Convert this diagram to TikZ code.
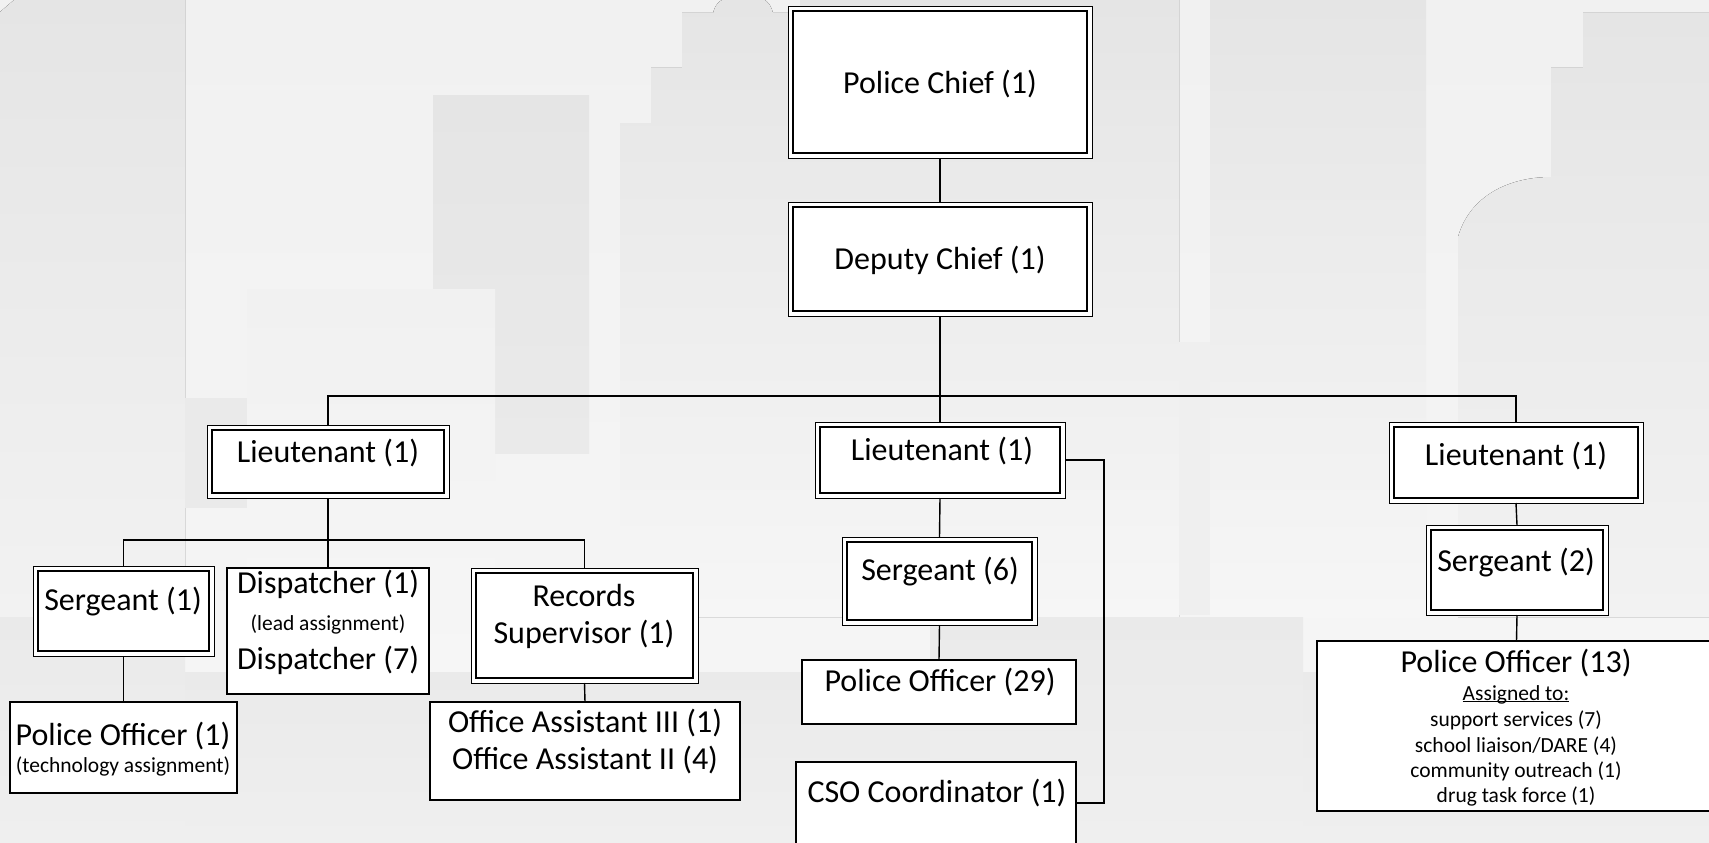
\documentclass[tikz,border=0pt]{standalone}
\usepackage{fontspec}
\setmainfont{Carlito}
\definecolor{bgA}{HTML}{F1F1F1}
\definecolor{bgB}{HTML}{F6F6F6}
\definecolor{bldA}{HTML}{E5E5E5}
\definecolor{bldB}{HTML}{F2F2F2}
\definecolor{bldC}{HTML}{EAEAEA}
\definecolor{gndA}{HTML}{EAEAEA}
\definecolor{gndB}{HTML}{EFEFEF}
% box from its corners: style, name, x1, y1, x2, y2
\newcommand\orgbox[6]{\node[#1, minimum width={#5-#3}, minimum height={#6-#4}] (#2) at ({(#3+#5)/2},{(#4+#6)/2}) {};}
\begin{document}
\begin{tikzpicture}[x=1pt,y=-1pt,
  every node/.style={inner sep=0pt, outer sep=0pt},
  bigtxt/.style={font=\fontsize{32}{38}\selectfont, anchor=base},
  smalltxt/.style={font=\fontsize{21.5}{25}\selectfont, anchor=base},
  plainbox/.style={rectangle, draw, line width=1.4pt, fill=white},
  dblbox/.style={rectangle, draw, line width=0.9pt, fill=white,
    path picture={\draw[line width=1.6pt]
      ([xshift=5pt,yshift=5pt]path picture bounding box.south west) rectangle
      ([xshift=-5pt,yshift=-5pt]path picture bounding box.north east);}},
  conn/.style={line width=1.4pt}]
\path[use as bounding box, clip] (0,0) rectangle (1709,843);

% skyline backdrop
\fill[top color=bgA, bottom color=bgB] (0,0) rectangle (1709,843);
\fill[top color=bldA, bottom color=bldB] (0,12) -- (14,0) -- (185,0) -- (185,617) -- (0,617) -- cycle;
\fill[top color=bldA, bottom color=bldC] (433,96) rectangle (589,453);
\fill[top color=bgA, bottom color=bgB] (247,289) rectangle (495,672);
\fill[bldC] (185,398) rectangle (247,508);
\fill[top color=bldA, bottom color=bgB] (620,617) -- (620,123) -- (651,123) -- (651,68) -- (682,68) -- (682,13) -- (713,13)
  .. controls (716,2) and (722,-2) .. (732,-2) -- (755,-2) .. controls (765,-2) and (770,2) .. (773,13)
  -- (800,13) -- (800,0) -- (1179,0) -- (1179,617) -- cycle;
\fill[top color=bldA, bottom color=bgB] (1210,0) rectangle (1426,617);
\fill[bldC!60!bgB] (1179,342) rectangle (1210,615);
\fill[top color=bldA, bottom color=bldB] (1458,617) -- (1458,237) .. controls (1470,195) and (1510,177) .. (1551,177)
  -- (1551,68) -- (1583,68) -- (1583,13) -- (1709,13) -- (1709,617) -- cycle;
\fill[top color=gndA, bottom color=gndB] (0,617) rectangle (185,843);
\fill[top color=gndA, bottom color=gndB] (185,672) rectangle (930,843);
\fill[top color=gndA, bottom color=gndB] (930,617) rectangle (1303,843);
\fill[top color=gndA, bottom color=gndB] (1303,672) rectangle (1709,843);

% boxes
\orgbox{dblbox}{chief}{788}{6}{1092}{158}
\orgbox{dblbox}{deputy}{788}{202}{1092}{316}
\orgbox{dblbox}{ltL}{207}{425}{449}{498}
\orgbox{dblbox}{ltM}{815}{422}{1065}{498}
\orgbox{dblbox}{ltR}{1389}{422}{1643}{503}
\orgbox{dblbox}{sgtL}{33}{566}{214}{656}
\orgbox{plainbox}{disp}{227}{568}{429}{694}
\orgbox{dblbox}{rec}{471}{568}{698}{683}
\orgbox{plainbox}{poL}{10}{702}{237}{793}
\orgbox{plainbox}{oa}{430}{702}{740}{800}
\orgbox{dblbox}{sgtM}{842}{537}{1037}{625}
\orgbox{plainbox}{poM}{802}{660}{1076}{724}
\orgbox{plainbox}{cso}{796}{762}{1076}{844}
\orgbox{dblbox}{sgtR}{1426}{525}{1608}{615}
\orgbox{plainbox}{poR}{1317}{641}{1716}{811}

% connectors
\coordinate (busTop) at (940,396);
\coordinate (busL) at (328,540);
\coordinate (brk) at (1104,460);
\draw[conn] (chief.south) -- (deputy.north);
\draw[conn] (deputy.south) -- (busTop) -- (ltM.north);
\draw[conn] (ltL.north) |- (busTop) -| (ltR.north);
\draw[conn] (ltL.south) -- (busL) -- (disp.north);
\draw[conn] (sgtL.north) |- (busL) -| (rec.north);
\draw[conn] (sgtL.south) -- (poL.north);
\draw[conn] (rec.south) -- (oa.north);
\draw[conn] (ltM.south) -- (sgtM.north);
\draw[conn] (sgtM.south) -- (poM.north);
\draw[conn] (ltM.east) -- (brk) |- (cso.east);
\draw[conn] (ltR.south) -- (sgtR.north);
\draw[conn] (sgtR.south) -- (poR.north);

% labels
\node[bigtxt] (chief-t) at (940,93) {Police Chief (1)};
\node[bigtxt] (deputy-t) at (940,269) {Deputy Chief (1)};
\node[bigtxt] (ltL-t) at (328,462) {Lieutenant (1)};
\node[bigtxt] (ltM-t) at (942,460) {Lieutenant (1)};
\node[bigtxt] (ltR-t) at (1516,465) {Lieutenant (1)};
\node[bigtxt] (sgtL-t) at (123,610) {Sergeant (1)};
\node[bigtxt] (disp-t1) at (328,593) {Dispatcher (1)};
\node[smalltxt] (disp-t2) at (328,630) {(lead assignment)};
\node[bigtxt] (disp-t3) at (328,669) {Dispatcher (7)};
\node[bigtxt] (rec-t1) at (584,606) {Records};
\node[bigtxt] (rec-t2) at (584,643) {Supervisor (1)};
\node[bigtxt] (poL-t1) at (123,745) {Police Officer (1)};
\node[smalltxt] (poL-t2) at (123,772) {(technology assignment)};
\node[bigtxt] (oa-t1) at (585,732) {Office Assistant III (1)};
\node[bigtxt] (oa-t2) at (585,769) {Office Assistant II (4)};
\node[bigtxt] (sgtM-t) at (940,580) {Sergeant (6)};
\node[bigtxt] (poM-t) at (940,691) {Police Officer (29)};
\node[bigtxt] (cso-t) at (937,802) {CSO Coordinator (1)};
\node[bigtxt] (sgtR-t) at (1516,571) {Sergeant (2)};
\node[bigtxt] (poR-t1) at (1516,672) {Police Officer (13)};
\node[smalltxt] (poR-t2) at (1516,700) {\underline{\smash{Assigned to:}}};
\node[smalltxt] (poR-t3) at (1516,726) {support services (7)};
\node[smalltxt] (poR-t4) at (1516,752) {school liaison/DARE (4)};
\node[smalltxt] (poR-t5) at (1516,777) {community outreach (1)};
\node[smalltxt] (poR-t6) at (1516,802) {drug task force (1)};
\end{tikzpicture}
\end{document}
